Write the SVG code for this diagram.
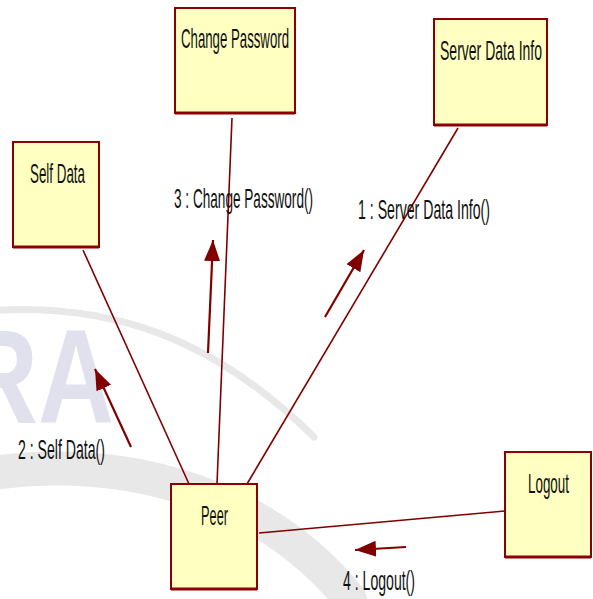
<svg xmlns="http://www.w3.org/2000/svg" width="593" height="599" viewBox="0 0 593 599">
  <defs>
    <marker id="head" markerUnits="userSpaceOnUse" markerWidth="22" markerHeight="16" refX="21" refY="8" orient="auto">
      <path d="M0,0 L21,8 L0,16 Z" fill="#800000"/>
    </marker>
  </defs>
  <style>
    .box { fill: #FFFFC2; stroke: #8B0000; stroke-width: 2; }
    .base { stroke: #8B0000; stroke-width: 3; }
    .link { stroke: #800000; stroke-width: 1.6; fill: none; }
    .msg { stroke: #800000; stroke-width: 2.2; fill: none; marker-end: url(#head); }
    .t { font-family: "Liberation Sans", Arial, sans-serif; font-size: 28px; fill: #111; }
    .wm { fill: none; stroke: #d6d6d6; stroke-linecap: round; }
  </style>
  <rect width="593" height="599" fill="#ffffff"/>

  <!-- faint background emblem -->
  <g id="backdrop" opacity="0.55">
    <path class="wm" stroke-width="7" d="M0,310 C110,305 210,335 314,437"/>
    <path class="wm" stroke-width="34" stroke="#e8e8e8" d="M0,472 C140,455 270,500 350,599"/>
    <text x="-38" y="423" font-family="Liberation Sans, Arial, sans-serif" font-weight="bold" font-size="134" fill="#b9b9d6" opacity="0.75" textLength="152" lengthAdjust="spacingAndGlyphs">RA</text>
  </g>

  <!-- associations -->
  <g id="connectors">
    <line class="link" x1="83" y1="250" x2="189" y2="484"/>
    <line class="link" x1="232" y1="118" x2="217" y2="484"/>
    <line class="link" x1="458" y1="128" x2="247" y2="484"/>
    <line class="link" stroke-width="3" x1="259" y1="533" x2="505" y2="511"/>
    <!-- messages -->
    <line class="msg" x1="131" y1="447" x2="95" y2="369"/>
    <line class="msg" x1="208" y1="353" x2="213" y2="240"/>
    <line class="msg" x1="325" y1="317" x2="364" y2="250"/>
    <line class="msg" x1="406" y1="547" x2="355" y2="550"/>
    <text class="t" x="18" y="459" textLength="87" lengthAdjust="spacingAndGlyphs">2 : Self Data()</text>
    <text class="t" x="174" y="208" textLength="139" lengthAdjust="spacingAndGlyphs">3 : Change Password()</text>
    <text class="t" x="358" y="219" textLength="132" lengthAdjust="spacingAndGlyphs">1 : Server Data Info()</text>
    <text class="t" x="343" y="590" textLength="72" lengthAdjust="spacingAndGlyphs">4 : Logout()</text>
  </g>

  <g id="change-password">
    <rect class="box" x="175" y="8" width="120" height="105"/>
    <line class="base" x1="175" y1="113" x2="295" y2="113"/>
    <text class="t" x="181" y="48" textLength="108" lengthAdjust="spacingAndGlyphs">Change Password</text>
  </g>

  <g id="server-data-info">
    <rect class="box" x="434" y="19" width="113" height="106"/>
    <line class="base" x1="434" y1="125" x2="547" y2="125"/>
    <text class="t" x="440" y="60" textLength="102" lengthAdjust="spacingAndGlyphs">Server Data Info</text>
  </g>

  <g id="self-data">
    <rect class="box" x="13" y="142" width="86" height="105"/>
    <line class="base" x1="13" y1="247" x2="99" y2="247"/>
    <text class="t" x="30" y="183" textLength="55" lengthAdjust="spacingAndGlyphs">Self Data</text>
  </g>

  <g id="peer">
    <rect class="box" x="171" y="484" width="86" height="105"/>
    <line class="base" x1="171" y1="589" x2="257" y2="589"/>
    <text class="t" x="201" y="525" textLength="27" lengthAdjust="spacingAndGlyphs">Peer</text>
  </g>

  <g id="logout">
    <rect class="box" x="505" y="452" width="86" height="105"/>
    <line class="base" x1="505" y1="557" x2="591" y2="557"/>
    <text class="t" x="528" y="493" textLength="41" lengthAdjust="spacingAndGlyphs">Logout</text>
  </g>
</svg>
